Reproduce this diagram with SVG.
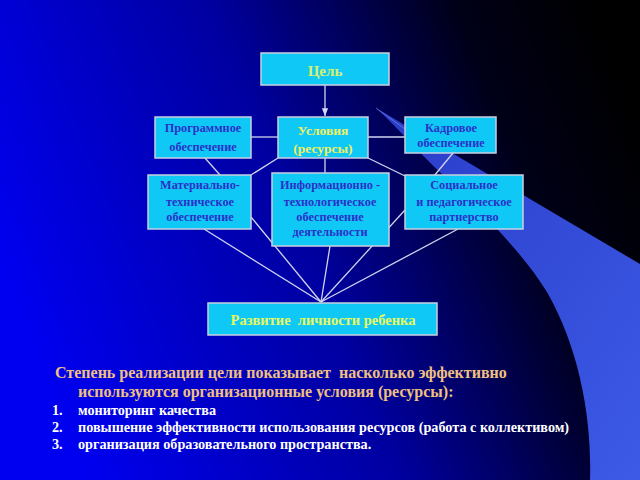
<svg xmlns="http://www.w3.org/2000/svg" width="640" height="480" viewBox="0 0 640 480">
<defs>
<linearGradient id="bg" x1="0" y1="0.55" x2="1" y2="0.25">
<stop offset="0" stop-color="#0000f0"/>
<stop offset="0.45" stop-color="#0000a0"/>
<stop offset="0.8" stop-color="#000018"/>
<stop offset="1" stop-color="#000000"/>
</linearGradient>
<linearGradient id="sw" x1="0" y1="0" x2="1" y2="1">
<stop offset="0" stop-color="#2a3cc8"/>
<stop offset="1" stop-color="#3c5ae6"/>
</linearGradient>
<marker id="ah" viewBox="0 0 10 10" refX="10" refY="5" markerWidth="6" markerHeight="6" orient="auto">
<path d="M0,1 L10,5 L0,9 z" fill="#d8d8f0"/>
</marker>
<style>
.box{fill:#10c8f6;stroke:#c8d0e0;stroke-width:1.5}
.bt{font-family:"Liberation Serif","Times New Roman",serif;font-weight:bold;font-size:12.3px;fill:#2a32c8;text-anchor:middle}
.yt{font-family:"Liberation Serif","Times New Roman",serif;font-weight:bold;font-size:13.5px;fill:#f0f060;text-anchor:middle}
.ln{stroke:#d0d4ee;stroke-width:1.3;fill:none}
.ot{font-family:"Liberation Serif","Times New Roman",serif;font-weight:bold;font-size:16px;fill:#f0c080}
.wt{font-family:"Liberation Serif","Times New Roman",serif;font-weight:bold;font-size:14.2px;fill:#ffffff}
</style>
</defs>
<rect x="0" y="0" width="640" height="480" fill="url(#bg)"/>
<path d="M376,108 L640,264 L640,480 L590,480 C592,420 580,350 547,292 C522,252 484,214 444,176 C418,152 396,126 376,108 Z" fill="url(#sw)"/>
<path d="M376,108 L420,140" stroke="#8090e0" stroke-width="1" opacity="0.6"/>

<g id="connectors">
<line class="ln" x1="325" y1="85" x2="325" y2="116" marker-end="url(#ah)"/>
<line class="ln" x1="251" y1="137" x2="278" y2="137"/>
<line class="ln" x1="368" y1="137" x2="405" y2="137"/>
<line class="ln" x1="205" y1="158" x2="220" y2="175"/>
<line class="ln" x1="278" y1="158" x2="251" y2="175"/>
<line class="ln" x1="325" y1="158" x2="325" y2="173"/>
<line class="ln" x1="368" y1="158" x2="405" y2="176"/>
<line class="ln" x1="453" y1="153" x2="434" y2="176"/>
<line class="ln" x1="204" y1="229" x2="321" y2="302"/>
<line class="ln" x1="251" y1="217" x2="321" y2="302"/>
<line class="ln" x1="330" y1="246" x2="321" y2="302"/>
<line class="ln" x1="405" y1="210" x2="321" y2="302"/>
<line class="ln" x1="458" y1="229" x2="321" y2="302"/>
</g>

<g id="goal">
<rect class="box" x="261" y="53" width="128" height="32"/>
<text class="yt" x="325" y="76" style="fill:#d8f070;font-size:15px">Цель</text>
</g>
<g id="conditions">
<rect class="box" x="278" y="117" width="90" height="41"/>
<text class="yt" x="323" y="135">Условия</text>
<text class="yt" x="323" y="153">(ресурсы)</text>
</g>
<g id="software">
<rect class="box" x="155" y="117" width="96" height="41"/>
<text class="bt" x="203" y="132">Программное</text>
<text class="bt" x="203" y="151">обеспечение</text>
</g>
<g id="staff">
<rect class="box" x="405" y="117" width="91" height="36"/>
<text class="bt" x="451" y="132">Кадровое</text>
<text class="bt" x="451" y="147">обеспечение</text>
</g>
<g id="material">
<rect class="box" x="148" y="175" width="103" height="54"/>
<text class="bt" x="200" y="189">Материально-</text>
<text class="bt" x="200" y="206">техническое</text>
<text class="bt" x="200" y="221">обеспечение</text>
</g>
<g id="info">
<rect class="box" x="272" y="173" width="117" height="73"/>
<text class="bt" x="330" y="189">Информационно -</text>
<text class="bt" x="330" y="206">технологическое</text>
<text class="bt" x="330" y="221">обеспечение</text>
<text class="bt" x="330" y="236">деятельности</text>
</g>
<g id="social">
<rect class="box" x="405" y="175" width="118" height="54"/>
<text class="bt" x="464" y="189">Социальное</text>
<text class="bt" x="464" y="206">и педагогическое</text>
<text class="bt" x="464" y="221">партнерство</text>
</g>
<g id="development">
<rect class="box" x="208" y="303" width="229" height="32"/>
<text class="yt" x="323" y="325" style="fill:#e8f860;font-size:14.5px" xml:space="preserve">Развитие  личности ребенка</text>
</g>

<text class="ot" x="55" y="378" xml:space="preserve">Степень реализации цели показывает  насколько эффективно</text>
<text class="ot" x="78" y="397">используются организационные условия (ресурсы):</text>
<text class="wt" x="52" y="415">1.</text>
<text class="wt" x="78" y="415">мониторинг качества</text>
<text class="wt" x="52" y="432">2.</text>
<text class="wt" x="78" y="432">повышение эффективности использования ресурсов (работа с коллективом)</text>
<text class="wt" x="52" y="449">3.</text>
<text class="wt" x="78" y="449">организация образовательного пространства.</text>
</svg>
